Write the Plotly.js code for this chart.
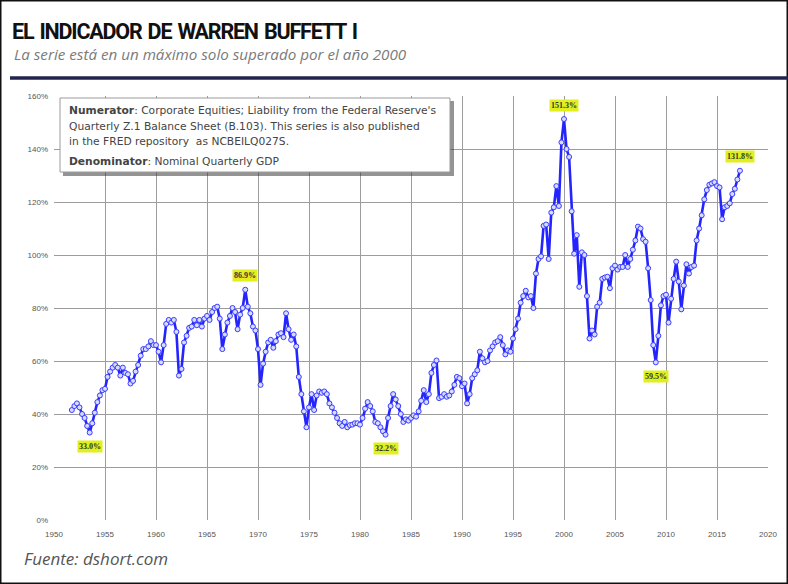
<!DOCTYPE html>
<html>
<head>
<meta charset="utf-8">
<script src="https://cdn.plot.ly/plotly-3.0.1.min.js"></script>
<style>
html,body{margin:0;padding:0;background:#fff;}
#chart{width:788px;height:584px;}
.gtitle{letter-spacing:-1.2px;word-spacing:2px;}
</style>
</head>
<body>
<div id="chart"></div>
<script>
// Quarterly series: corporate equities / nominal GDP (%), starting 1951 Q4
const firstYear = 1951;
const firstQuarter = 4;
const ratio = [
  41.5,
  43.0, 44.0, 42.5, 40.0,   // 1952
  38.5, 35.5, 33.0, 36.5,   // 1953
  40.5, 44.5, 47.0, 49.0,   // 1954
  49.5, 54.0, 56.0, 57.5,   // 1955
  58.5, 57.5, 54.5, 57.5,   // 1956
  55.5, 55.0, 51.5, 52.5,   // 1957
  56.0, 58.5, 62.0, 64.5,   // 1958
  64.5, 65.5, 67.5, 66.0,   // 1959
  66.0, 63.5, 59.5, 66.0,   // 1960
  74.0, 75.5, 74.5, 75.5,   // 1961
  71.0, 54.5, 57.0, 67.0,   // 1962
  69.5, 72.5, 73.0, 75.5,   // 1963
  73.5, 75.5, 73.0, 76.0,   // 1964
  77.0, 75.5, 78.5, 80.0,   // 1965
  80.5, 76.0, 64.5, 70.0,   // 1966
  74.5, 77.0, 80.0, 78.5,   // 1967
  72.0, 77.5, 80.0, 86.9,   // 1968
  80.5, 78.0, 73.0, 71.5,   // 1969
  64.5, 51.0, 59.0, 63.5,   // 1970
  67.0, 68.0, 65.0, 67.5,   // 1971
  70.0, 70.5, 69.0, 78.0,   // 1972
  72.0, 68.0, 70.0, 65.5,   // 1973
  54.0, 47.5, 41.0, 35.0,   // 1974
  42.5, 47.5, 41.5, 47.0,   // 1975
  48.5, 48.0, 48.5, 47.5,   // 1976
  44.0, 42.5, 40.5, 38.5,   // 1977
  36.5, 35.5, 37.0, 35.0,   // 1978
  35.8, 36.0, 36.5, 36.5,   // 1979
  36.0, 38.5, 42.0, 44.5,   // 1980
  43.0, 41.0, 37.0, 36.5,   // 1981
  35.0, 33.5, 32.2, 38.5,   // 1982
  43.0, 47.5, 45.5, 43.0,   // 1983
  40.0, 37.0, 38.0, 37.5,   // 1984
  38.5, 39.5, 39.0, 41.0,   // 1985
  45.0, 49.0, 44.5, 47.5,   // 1986
  55.5, 58.5, 60.2, 46.0,   // 1987
  46.5, 47.5, 46.5, 47.0,   // 1988
  48.5, 51.0, 54.0, 53.5,   // 1989
  50.5, 51.5, 44.0, 47.5,   // 1990
  53.5, 55.0, 56.5, 63.5,   // 1991
  61.0, 59.5, 60.0, 64.0,   // 1992
  65.5, 67.0, 67.5, 69.0,   // 1993
  66.0, 62.5, 64.0, 63.5,   // 1994
  68.5, 72.0, 76.0, 82.0,   // 1995
  84.5, 86.5, 84.0, 84.5,   // 1996
  80.0, 93.0, 98.5, 99.5,   // 1997
  111.0, 111.5, 98.5, 116.0, // 1998
  118.0, 126.0, 118.5, 142.5, // 1999
  151.3, 140.0, 137.0, 116.5, // 2000
  100.5, 107.5, 88.0, 101.0, // 2001
  100.0, 84.5, 68.5, 71.5,  // 2002
  70.0, 80.5, 82.0, 91.0,   // 2003
  91.5, 91.8, 87.5, 95.0,   // 2004
  96.0, 94.5, 95.5, 95.5,   // 2005
  100.0, 95.5, 98.5, 102.0, // 2006
  105.5, 110.7, 110.0, 106.0, // 2007
  105.0, 95.0, 83.0, 66.0,  // 2008
  59.5, 69.5, 81.0, 84.5,   // 2009
  85.0, 74.5, 83.5, 91.0,   // 2010
  97.5, 90.0, 79.5, 88.5,   // 2011
  96.5, 93.0, 95.5, 96.0,   // 2012
  105.5, 110.0, 115.0, 121.0, // 2013
  124.5, 126.5, 127.0, 127.5, // 2014
  126.0, 125.5, 113.5, 118.0, // 2015
  118.5, 119.5, 123.0, 125.0, // 2016
  128.5, 131.8              // 2017
];

// Highlighted extreme values
const labelQuarters = [1953.5, 1968.75, 1982.5, 2000.0, 2009.0, 2017.25];
const labelTexts = ["33.0%", "86.9%", "32.2%", "151.3%", "59.5%", "131.8%"];
const labelAbove = [false, true, false, true, false, true];

const yTicks = [0, 20, 40, 60, 80, 100, 120, 140, 160];
const xTicks = [1950, 1955, 1960, 1965, 1970, 1975, 1980, 1985, 1990, 1995, 2000, 2005, 2010, 2015, 2020];

const titleText = "EL INDICADOR DE WARREN BUFFETT I";
const subtitleText = "La serie está en un máximo solo superado por el año 2000";
const sourceText = "Fuente: dshort.com";
const noteLines = [
  "<b>Numerator</b>: Corporate Equities; Liability from the Federal Reserve's",
  "Quarterly Z.1 Balance Sheet (B.103). This series is also published",
  "in the FRED repository  as NCBEILQ027S.",
  "<b>Denominator</b>: Nominal Quarterly GDP"
];

// quarter positions (decimal years) for the series
const start = firstYear + (firstQuarter - 1) / 4;
const xq = ratio.map((_, i) => start + i * 0.25);

// layout geometry (pixels)
const W = 788, H = 584;
const L = 54, R = 20, T = 96, B = 64;
const pw = W - L - R, ph = H - T - B;
const px = x => (x - L) / pw;          // pixel x -> paper
const py = y => (H - B - y) / ph;      // pixel y -> paper

const trace = {
  x: xq, y: ratio, type: 'scatter', mode: 'lines+markers',
  line: {color: '#2424ff', width: 2.6},
  marker: {symbol: 'circle', size: 5, color: '#d6dcff', line: {color: '#3a3aff', width: 1}},
  hoverinfo: 'x+y', showlegend: false
};

const annotations = [];
labelQuarters.forEach((q, k) => {
  const idx = xq.findIndex(v => Math.abs(v - q) < 0.01);
  annotations.push({
    x: q, y: ratio[idx], xref: 'x', yref: 'y',
    text: '<b>' + labelTexts[k] + '</b>', showarrow: false,
    yshift: labelAbove[k] ? 14 : -14,
    bgcolor: '#e2ee1e', borderpad: 1,
    font: {family: 'Liberation Serif, serif', size: 8, color: '#333'}
  });
});
annotations.push({
  xref: 'paper', yref: 'paper', x: px(12), y: py(54), xanchor: 'left', yanchor: 'middle',
  text: '<i>' + subtitleText + '</i>', showarrow: false,
  font: {family: 'Open Sans, sans-serif', size: 15.2, color: '#7a7a7a'}
});
annotations.push({
  xref: 'paper', yref: 'paper', x: px(22), y: py(558), xanchor: 'left', yanchor: 'middle',
  text: '<i>' + sourceText + '</i>', showarrow: false,
  font: {family: 'Open Sans, sans-serif', size: 17, color: '#555'}
});
const noteY = [110, 126, 141, 161];
noteLines.forEach((t, k) => {
  annotations.push({
    xref: 'paper', yref: 'paper', x: px(67), y: py(noteY[k]), xanchor: 'left', yanchor: 'middle',
    text: t, showarrow: false, align: 'left',
    font: {family: 'DejaVu Sans, sans-serif', size: 10.7, color: '#444'}
  });
});

const shapes = [
  // outer frame
  {type: 'rect', xref: 'paper', yref: 'paper', x0: px(0.75), x1: px(W - 0.75), y0: py(H - 0.75), y1: py(0.75),
   line: {color: '#111', width: 1.5}, layer: 'above'},
  // header rule
  {type: 'line', xref: 'paper', yref: 'paper', x0: px(10), x1: px(W), y0: py(78), y1: py(78),
   line: {color: '#23234f', width: 3.5}, layer: 'above'},
  // note box shadow
  {type: 'rect', xref: 'paper', yref: 'paper', x0: px(63), x1: px(454), y0: py(176), y1: py(101),
   fillcolor: 'rgba(60,60,60,0.55)', line: {width: 0}, layer: 'above'},
  // note box
  {type: 'rect', xref: 'paper', yref: 'paper', x0: px(60), x1: px(450), y0: py(172), y1: py(98),
   fillcolor: '#ffffff', line: {color: '#9a9a9a', width: 1}, layer: 'above'}
];

const layout = {
  width: W, height: H,
  margin: {l: L, r: R, t: T, b: B},
  paper_bgcolor: '#ffffff', plot_bgcolor: '#ffffff',
  title: {
    text: '<b>' + titleText + '</b>', xref: 'container', yref: 'container',
    x: 12 / W, xanchor: 'left', y: 1 - 31 / H, yanchor: 'middle',
    font: {family: 'Roboto, sans-serif', size: 21.5, color: '#111'}
  },
  xaxis: {
    range: [1950, 2020], tickvals: xTicks, ticktext: xTicks.map(String),
    showgrid: true, gridcolor: '#9c9c9c', gridwidth: 1, zeroline: false,
    showline: false, ticks: '', ticklabelstandoff: 8,
    tickfont: {family: 'Liberation Sans, sans-serif', size: 8, color: '#555'}
  },
  yaxis: {
    range: [0, 160], tickvals: yTicks, ticktext: yTicks.map(v => v + '%'),
    showgrid: true, gridcolor: '#9c9c9c', gridwidth: 1, zeroline: false,
    showline: false, ticks: '', ticklabelstandoff: 5,
    tickfont: {family: 'Liberation Sans, sans-serif', size: 8, color: '#555'}
  },
  annotations: annotations,
  shapes: shapes
};

Plotly.newPlot('chart', [trace], layout, {displayModeBar: false, staticPlot: true});
</script>
</body>
</html>
